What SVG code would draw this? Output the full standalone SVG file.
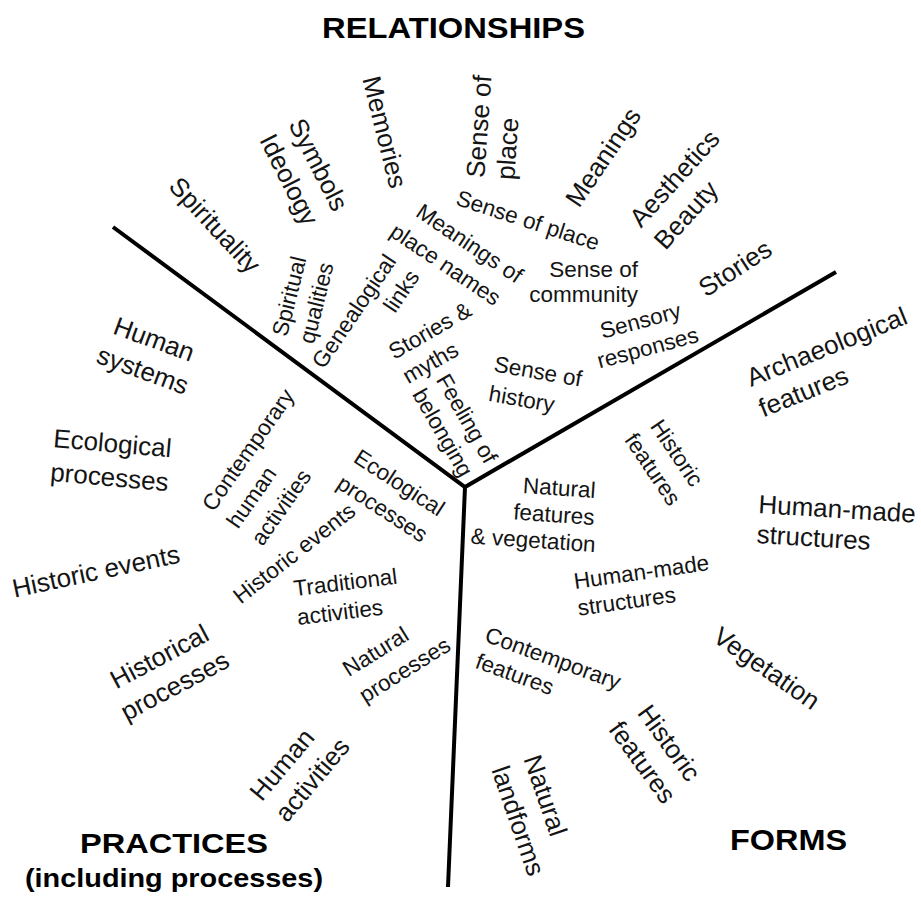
<svg xmlns="http://www.w3.org/2000/svg" width="921" height="899" viewBox="0 0 921 899">
<style>
text{font-family:"Liberation Sans",Arial,sans-serif;fill:#141414}
.o{font-size:26px}
.i{font-size:22.5px}
.m{text-anchor:middle}
.s{text-anchor:start}
.e{text-anchor:end}
.h{font-weight:bold;text-anchor:middle;fill:#000}
.ln{fill:none;stroke:#000;stroke-width:4;stroke-linejoin:miter}
</style>
<rect width="921" height="899" fill="#fff"/>
<g id="connectors">
<path class="ln" d="M113,227 L465,487 L836,272 M465,487 L448,887"/>
</g>
<g id="headers">
<text class="h" x="453.5" y="38" font-size="29" textLength="263" lengthAdjust="spacingAndGlyphs">RELATIONSHIPS</text>
<text class="h" x="174" y="853" font-size="28" textLength="188" lengthAdjust="spacingAndGlyphs">PRACTICES</text>
<text class="h" x="174" y="887" font-size="26" textLength="298" lengthAdjust="spacingAndGlyphs">(including processes)</text>
<text class="h" x="788.5" y="850" font-size="30" textLength="117" lengthAdjust="spacingAndGlyphs">FORMS</text>
</g>
<g id="rel-spirituality" transform="translate(215,225) rotate(47)"><text class="o m" y="9.1">Spirituality</text></g>
<g id="rel-symbols" transform="translate(304,172) rotate(63)"><text class="o m"><tspan x="0" y="-7.4">Symbols</tspan><tspan x="0" y="25.6">Ideology</tspan></text></g>
<g id="rel-memories" transform="translate(385,132) rotate(76)"><text class="o m" y="9.1">Memories</text></g>
<g id="rel-senseofplace-outer" transform="translate(493,137.5) rotate(-86)"><text class="o s"><tspan x="-41.2" y="-5.9">Sense of</tspan><tspan x="-41.2" y="24.1">place</tspan></text></g>
<g id="rel-meanings" transform="translate(603,157) rotate(-56)"><text class="o m" y="9.1">Meanings</text></g>
<g id="rel-aesthetics" transform="translate(680,196.5) rotate(-48)"><text class="o s"><tspan x="-50.2" y="-7.4">Aesthetics</tspan><tspan x="-50.2" y="25.6">Beauty</tspan></text></g>
<g id="rel-senseofplace-inner" transform="translate(528,220) rotate(18)"><text class="i m" y="7.9">Sense of place</text></g>
<g id="rel-placenames" transform="translate(461,256) rotate(34)"><text class="i m"><tspan x="0" y="-7.6">Meanings of</tspan><tspan x="-8" y="23.4">place names</tspan></text></g>
<g id="rel-community"><text class="i e"><tspan x="638" y="277">Sense of</tspan><tspan x="638" y="302">community</tspan></text></g>
<g id="rel-stories" transform="translate(735,268) rotate(-33)"><text class="o m" y="9.1">Stories</text></g>
<g id="rel-sensory" transform="translate(644,334) rotate(-15)"><text class="i m"><tspan x="0" y="-6.1">Sensory</tspan><tspan x="0" y="21.9">responses</tspan></text></g>
<g id="rel-history" transform="translate(530,385) rotate(10)"><text class="i s"><tspan x="-38.8" y="-7.1">Sense of</tspan><tspan x="-38.8" y="22.9">history</tspan></text></g>
<g id="rel-myths" transform="translate(430,346.5) rotate(-30)"><text class="i s"><tspan x="-37.8" y="-6.1">Stories &amp;</tspan><tspan x="-37.8" y="21.9">myths</tspan></text></g>
<g id="rel-belonging" transform="translate(455,425.5) rotate(60)"><text class="i m"><tspan x="0" y="-6.1">Feeling of</tspan><tspan x="0" y="21.9">belonging</tspan></text></g>
<g id="rel-genealogical" transform="translate(377.5,301) rotate(-56)"><text class="i e"><tspan x="44" y="-6.1">Genealogical</tspan><tspan x="44" y="21.9">links</tspan></text></g>
<g id="rel-spiritual" transform="translate(302.5,299.5) rotate(-76)"><text class="i m"><tspan x="0" y="-6.1">Spiritual</tspan><tspan x="0" y="21.9">qualities</tspan></text></g>
<g id="pra-humansystems" transform="translate(148.5,354.5) rotate(20)"><text class="o m"><tspan x="0" y="-7.4">Human</tspan><tspan x="0" y="25.6">systems</tspan></text></g>
<g id="pra-ecological-outer" transform="translate(111,460) rotate(5)"><text class="o m"><tspan x="0" y="-7.9">Ecological</tspan><tspan x="0" y="26.1">processes</tspan></text></g>
<g id="pra-historicevents-outer" transform="translate(96,571) rotate(-12)"><text class="o m" y="9.1">Historic events</text></g>
<g id="pra-contemporary" transform="translate(260,484.7) rotate(-55)"><text class="i s"><tspan x="-49.6" y="-22.1">Contemporary</tspan><tspan x="-49.6" y="7.9">human</tspan><tspan x="-49.6" y="37.9">activities</tspan></text></g>
<g id="pra-ecological-inner" transform="translate(391,495.5) rotate(33)"><text class="i m"><tspan x="0" y="-7.6">Ecological</tspan><tspan x="0" y="23.4">processes</tspan></text></g>
<g id="pra-historicevents-inner" transform="translate(294,553) rotate(-38)"><text class="i m" y="7.9">Historic events</text></g>
<g id="pra-traditional" transform="translate(342.8,597) rotate(-7)"><text class="i s"><tspan x="-47.8" y="-6.6">Traditional</tspan><tspan x="-47.8" y="22.4">activities</tspan></text></g>
<g id="pra-historical" transform="translate(167,671) rotate(-28)"><text class="o m"><tspan x="0" y="-7.4">Historical</tspan><tspan x="0" y="25.6">processes</tspan></text></g>
<g id="pra-natural" transform="translate(390,660.5) rotate(-32)"><text class="i s"><tspan x="-43.75" y="-7.6">Natural</tspan><tspan x="-43.75" y="23.4">processes</tspan></text></g>
<g id="pra-humanactivities" transform="translate(297,772) rotate(-50)"><text class="o s"><tspan x="-45.9" y="-7.4">Human</tspan><tspan x="-45.9" y="25.6">activities</tspan></text></g>
<g id="for-archaeological" transform="translate(815,369) rotate(-22)"><text class="o s"><tspan x="-66.1" y="-7.4">Archaeological</tspan><tspan x="-66.1" y="25.6">features</tspan></text></g>
<g id="for-historic-inner" transform="translate(665,461) rotate(56)"><text class="i m"><tspan x="0" y="-6.6">Historic</tspan><tspan x="0" y="22.4">features</tspan></text></g>
<g id="for-naturalfeatures" transform="translate(594,525) rotate(4)"><text class="i e"><tspan x="-1" y="-27">Natural</tspan><tspan x="0" y="0">features</tspan><tspan x="3" y="27">&amp; vegetation</tspan></text></g>
<g id="for-humanmade-outer" transform="translate(758,513) rotate(3.5)"><text class="o s"><tspan x="0" y="0">Human-made</tspan><tspan x="0" y="30">structures</tspan></text></g>
<g id="for-humanmade-inner" transform="translate(575,589) rotate(-8)"><text class="i s"><tspan x="0" y="0">Human-made</tspan><tspan x="0" y="27">structures</tspan></text></g>
<g id="for-contemporary" transform="translate(534,666) rotate(20)"><text class="i s"><tspan x="-56" y="-6.1">Contemporary</tspan><tspan x="-56" y="21.9">features</tspan></text></g>
<g id="for-vegetation" transform="translate(766.7,668) rotate(35)"><text class="o m" y="9.1">Vegetation</text></g>
<g id="for-historic-outer" transform="translate(656,752.5) rotate(54)"><text class="o m"><tspan x="0" y="-7.4">Historic</tspan><tspan x="0" y="25.6">features</tspan></text></g>
<g id="for-landforms" transform="translate(532,808) rotate(71)"><text class="o s"><tspan x="-49.5" y="-7.9">Natural</tspan><tspan x="-49.5" y="26.1">landforms</tspan></text></g>
</svg>
